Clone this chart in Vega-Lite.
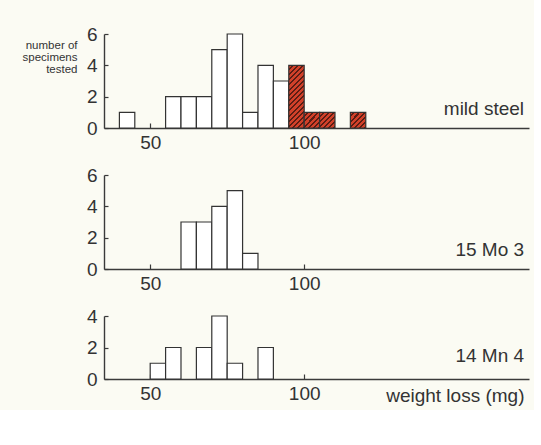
{
  "$schema": "https://vega.github.io/schema/vega-lite/v6.json",
  "background": "#fbfbf3",
  "padding": {"left": 22, "top": 25, "right": 5, "bottom": 5},
  "bounds": "flush",
  "spacing": 47,
  "datasets": {
    "bars": [
      {"material": "mild steel", "kind": "plain", "lo": 40, "hi": 45, "count": 1},
      {"material": "mild steel", "kind": "plain", "lo": 55, "hi": 60, "count": 2},
      {"material": "mild steel", "kind": "plain", "lo": 60, "hi": 65, "count": 2},
      {"material": "mild steel", "kind": "plain", "lo": 65, "hi": 70, "count": 2},
      {"material": "mild steel", "kind": "plain", "lo": 70, "hi": 75, "count": 5},
      {"material": "mild steel", "kind": "plain", "lo": 75, "hi": 80, "count": 6},
      {"material": "mild steel", "kind": "plain", "lo": 80, "hi": 85, "count": 1},
      {"material": "mild steel", "kind": "plain", "lo": 85, "hi": 90, "count": 4},
      {"material": "mild steel", "kind": "plain", "lo": 90, "hi": 95, "count": 3},
      {"material": "mild steel", "kind": "hatched", "lo": 95, "hi": 100, "count": 4},
      {"material": "mild steel", "kind": "hatched", "lo": 100, "hi": 105, "count": 1},
      {"material": "mild steel", "kind": "hatched", "lo": 105, "hi": 110, "count": 1},
      {"material": "mild steel", "kind": "hatched", "lo": 115, "hi": 120, "count": 1},
      {"material": "15 Mo 3", "kind": "plain", "lo": 60, "hi": 65, "count": 3},
      {"material": "15 Mo 3", "kind": "plain", "lo": 65, "hi": 70, "count": 3},
      {"material": "15 Mo 3", "kind": "plain", "lo": 70, "hi": 75, "count": 4},
      {"material": "15 Mo 3", "kind": "plain", "lo": 75, "hi": 80, "count": 5},
      {"material": "15 Mo 3", "kind": "plain", "lo": 80, "hi": 85, "count": 1},
      {"material": "14 Mn 4", "kind": "plain", "lo": 50, "hi": 55, "count": 1},
      {"material": "14 Mn 4", "kind": "plain", "lo": 55, "hi": 60, "count": 2},
      {"material": "14 Mn 4", "kind": "plain", "lo": 65, "hi": 70, "count": 2},
      {"material": "14 Mn 4", "kind": "plain", "lo": 70, "hi": 75, "count": 4},
      {"material": "14 Mn 4", "kind": "plain", "lo": 75, "hi": 80, "count": 1},
      {"material": "14 Mn 4", "kind": "plain", "lo": 85, "hi": 90, "count": 2}
    ]
  },
  "vconcat": [
    {
      "width": 425,
      "height": 94,
      "layer": [
        {
          "data": {"name": "bars"},
          "transform": [{"filter": "datum.material === 'mild steel' && datum.kind === 'plain'"}],
          "mark": {"type": "bar", "fill": "#ffffff", "stroke": "#333333", "strokeWidth": 1.2},
          "encoding": {
            "x": {"field": "lo", "type": "quantitative", "scale": {"domain": [35, 173], "nice": false, "zero": false}, "axis": {"values": [50, 100], "format": "d"}},
            "x2": {"field": "hi"},
            "y": {"field": "count", "type": "quantitative", "scale": {"domain": [0, 6], "nice": false}, "axis": {"values": [0, 2, 4, 6], "tickCount": 10, "format": "d", "title": ["number of", "specimens", "tested"], "titleAngle": 0, "titleAlign": "right", "titleBaseline": "top", "titleX": -27, "titleY": 5, "titleFontSize": 11.5, "titleLineHeight": 12}},
            "y2": {"datum": 0}
          }
        },
        {
          "data": {"name": "bars"},
          "transform": [{"filter": "datum.material === 'mild steel' && datum.kind === 'hatched' && datum.count === 4"}],
          "mark": {"type": "bar", "stroke": "#333333", "strokeWidth": 1.2, "fill": {"gradient": "linear", "x1": 0, "y1": 0, "x2": 0.289, "y2": 1.175, "stops": [
            {"offset": 0, "color": "#d2412a"}, {"offset": 0.04, "color": "#d2412a"}, {"offset": 0.04, "color": "#5b1d14"}, {"offset": 0.0667, "color": "#5b1d14"},
            {"offset": 0.0667, "color": "#d2412a"}, {"offset": 0.1067, "color": "#d2412a"}, {"offset": 0.1067, "color": "#5b1d14"}, {"offset": 0.1333, "color": "#5b1d14"},
            {"offset": 0.1333, "color": "#d2412a"}, {"offset": 0.1733, "color": "#d2412a"}, {"offset": 0.1733, "color": "#5b1d14"}, {"offset": 0.2, "color": "#5b1d14"},
            {"offset": 0.2, "color": "#d2412a"}, {"offset": 0.24, "color": "#d2412a"}, {"offset": 0.24, "color": "#5b1d14"}, {"offset": 0.2667, "color": "#5b1d14"},
            {"offset": 0.2667, "color": "#d2412a"}, {"offset": 0.3067, "color": "#d2412a"}, {"offset": 0.3067, "color": "#5b1d14"}, {"offset": 0.3333, "color": "#5b1d14"},
            {"offset": 0.3333, "color": "#d2412a"}, {"offset": 0.3733, "color": "#d2412a"}, {"offset": 0.3733, "color": "#5b1d14"}, {"offset": 0.4, "color": "#5b1d14"},
            {"offset": 0.4, "color": "#d2412a"}, {"offset": 0.44, "color": "#d2412a"}, {"offset": 0.44, "color": "#5b1d14"}, {"offset": 0.4667, "color": "#5b1d14"},
            {"offset": 0.4667, "color": "#d2412a"}, {"offset": 0.5067, "color": "#d2412a"}, {"offset": 0.5067, "color": "#5b1d14"}, {"offset": 0.5333, "color": "#5b1d14"},
            {"offset": 0.5333, "color": "#d2412a"}, {"offset": 0.5733, "color": "#d2412a"}, {"offset": 0.5733, "color": "#5b1d14"}, {"offset": 0.6, "color": "#5b1d14"},
            {"offset": 0.6, "color": "#d2412a"}, {"offset": 0.64, "color": "#d2412a"}, {"offset": 0.64, "color": "#5b1d14"}, {"offset": 0.6667, "color": "#5b1d14"},
            {"offset": 0.6667, "color": "#d2412a"}, {"offset": 0.7067, "color": "#d2412a"}, {"offset": 0.7067, "color": "#5b1d14"}, {"offset": 0.7333, "color": "#5b1d14"},
            {"offset": 0.7333, "color": "#d2412a"}, {"offset": 0.7733, "color": "#d2412a"}, {"offset": 0.7733, "color": "#5b1d14"}, {"offset": 0.8, "color": "#5b1d14"},
            {"offset": 0.8, "color": "#d2412a"}, {"offset": 0.84, "color": "#d2412a"}, {"offset": 0.84, "color": "#5b1d14"}, {"offset": 0.8667, "color": "#5b1d14"},
            {"offset": 0.8667, "color": "#d2412a"}, {"offset": 0.9067, "color": "#d2412a"}, {"offset": 0.9067, "color": "#5b1d14"}, {"offset": 0.9333, "color": "#5b1d14"},
            {"offset": 0.9333, "color": "#d2412a"}, {"offset": 0.9733, "color": "#d2412a"}, {"offset": 0.9733, "color": "#5b1d14"}, {"offset": 1, "color": "#5b1d14"}
          ]}},
          "encoding": {
            "x": {"field": "lo", "type": "quantitative"},
            "x2": {"field": "hi"},
            "y": {"field": "count", "type": "quantitative"},
            "y2": {"datum": 0}
          }
        },
        {
          "data": {"name": "bars"},
          "transform": [{"filter": "datum.material === 'mild steel' && datum.kind === 'hatched' && datum.count === 1"}],
          "mark": {"type": "bar", "stroke": "#333333", "strokeWidth": 1.2, "fill": {"gradient": "linear", "x1": 0, "y1": 0, "x2": 1, "y2": 1, "stops": [
            {"offset": 0, "color": "#d2412a"}, {"offset": 0.1, "color": "#d2412a"}, {"offset": 0.1, "color": "#5b1d14"}, {"offset": 0.1667, "color": "#5b1d14"},
            {"offset": 0.1667, "color": "#d2412a"}, {"offset": 0.2667, "color": "#d2412a"}, {"offset": 0.2667, "color": "#5b1d14"}, {"offset": 0.3333, "color": "#5b1d14"},
            {"offset": 0.3333, "color": "#d2412a"}, {"offset": 0.4333, "color": "#d2412a"}, {"offset": 0.4333, "color": "#5b1d14"}, {"offset": 0.5, "color": "#5b1d14"},
            {"offset": 0.5, "color": "#d2412a"}, {"offset": 0.6, "color": "#d2412a"}, {"offset": 0.6, "color": "#5b1d14"}, {"offset": 0.6667, "color": "#5b1d14"},
            {"offset": 0.6667, "color": "#d2412a"}, {"offset": 0.7667, "color": "#d2412a"}, {"offset": 0.7667, "color": "#5b1d14"}, {"offset": 0.8333, "color": "#5b1d14"},
            {"offset": 0.8333, "color": "#d2412a"}, {"offset": 0.9333, "color": "#d2412a"}, {"offset": 0.9333, "color": "#5b1d14"}, {"offset": 1, "color": "#5b1d14"}
          ]}},
          "encoding": {
            "x": {"field": "lo", "type": "quantitative"},
            "x2": {"field": "hi"},
            "y": {"field": "count", "type": "quantitative"},
            "y2": {"datum": 0}
          }
        },
        {
          "data": {"values": [{"label": "mild steel"}]},
          "mark": {"type": "text", "align": "right", "baseline": "alphabetic", "fontSize": 19, "font": "Liberation Sans", "color": "#333333"},
          "encoding": {
            "x": {"datum": 171.4, "type": "quantitative"},
            "y": {"datum": 0.85, "type": "quantitative"},
            "text": {"field": "label"}
          }
        }
      ]
    },
    {
      "width": 425,
      "height": 94,
      "layer": [
        {
          "data": {"name": "bars"},
          "transform": [{"filter": "datum.material === '15 Mo 3'"}],
          "mark": {"type": "bar", "fill": "#ffffff", "stroke": "#333333", "strokeWidth": 1.2},
          "encoding": {
            "x": {"field": "lo", "type": "quantitative", "scale": {"domain": [35, 173], "nice": false, "zero": false}, "axis": {"values": [50, 100], "format": "d"}},
            "x2": {"field": "hi"},
            "y": {"field": "count", "type": "quantitative", "scale": {"domain": [0, 6], "nice": false}, "axis": {"values": [0, 2, 4, 6], "tickCount": 10, "format": "d"}},
            "y2": {"datum": 0}
          }
        },
        {
          "data": {"values": [{"label": "15 Mo 3"}]},
          "mark": {"type": "text", "align": "right", "baseline": "alphabetic", "fontSize": 19, "font": "Liberation Sans", "color": "#333333"},
          "encoding": {
            "x": {"datum": 171.4, "type": "quantitative"},
            "y": {"datum": 0.85, "type": "quantitative"},
            "text": {"field": "label"}
          }
        }
      ]
    },
    {
      "width": 425,
      "height": 63,
      "layer": [
        {
          "data": {"name": "bars"},
          "transform": [{"filter": "datum.material === '14 Mn 4'"}],
          "mark": {"type": "bar", "fill": "#ffffff", "stroke": "#333333", "strokeWidth": 1.2},
          "encoding": {
            "x": {"field": "lo", "type": "quantitative", "scale": {"domain": [35, 173], "nice": false, "zero": false}, "axis": {"values": [50, 100], "format": "d", "title": "weight loss (mg)", "titleX": 420, "titleY": 22, "titleAlign": "right", "titleBaseline": "alphabetic", "titleFontSize": 19}},
            "x2": {"field": "hi"},
            "y": {"field": "count", "type": "quantitative", "scale": {"domain": [0, 4], "nice": false}, "axis": {"values": [0, 2, 4], "tickCount": 10, "format": "d"}},
            "y2": {"datum": 0}
          }
        },
        {
          "data": {"values": [{"label": "14 Mn 4"}]},
          "mark": {"type": "text", "align": "right", "baseline": "alphabetic", "fontSize": 19, "font": "Liberation Sans", "color": "#333333"},
          "encoding": {
            "x": {"datum": 171.4, "type": "quantitative"},
            "y": {"datum": 1.05, "type": "quantitative"},
            "text": {"field": "label"}
          }
        }
      ]
    }
  ],
  "config": {
    "view": {"stroke": null},
    "font": "Liberation Sans",
    "axis": {"grid": false, "domainColor": "#3a3a3a", "domainWidth": 1.4, "tickColor": "#3a3a3a", "tickWidth": 1.2, "labelFont": "Liberation Sans", "labelFontSize": 19, "labelColor": "#333333", "labelOverlap": false, "labelFlush": false, "titleFont": "Liberation Sans", "titleFontWeight": "normal", "titleColor": "#333333", "title": null},
    "axisX": {"tickSize": -5, "labelPadding": 10},
    "axisY": {"tickSize": -4, "labelPadding": 11}
  }
}
